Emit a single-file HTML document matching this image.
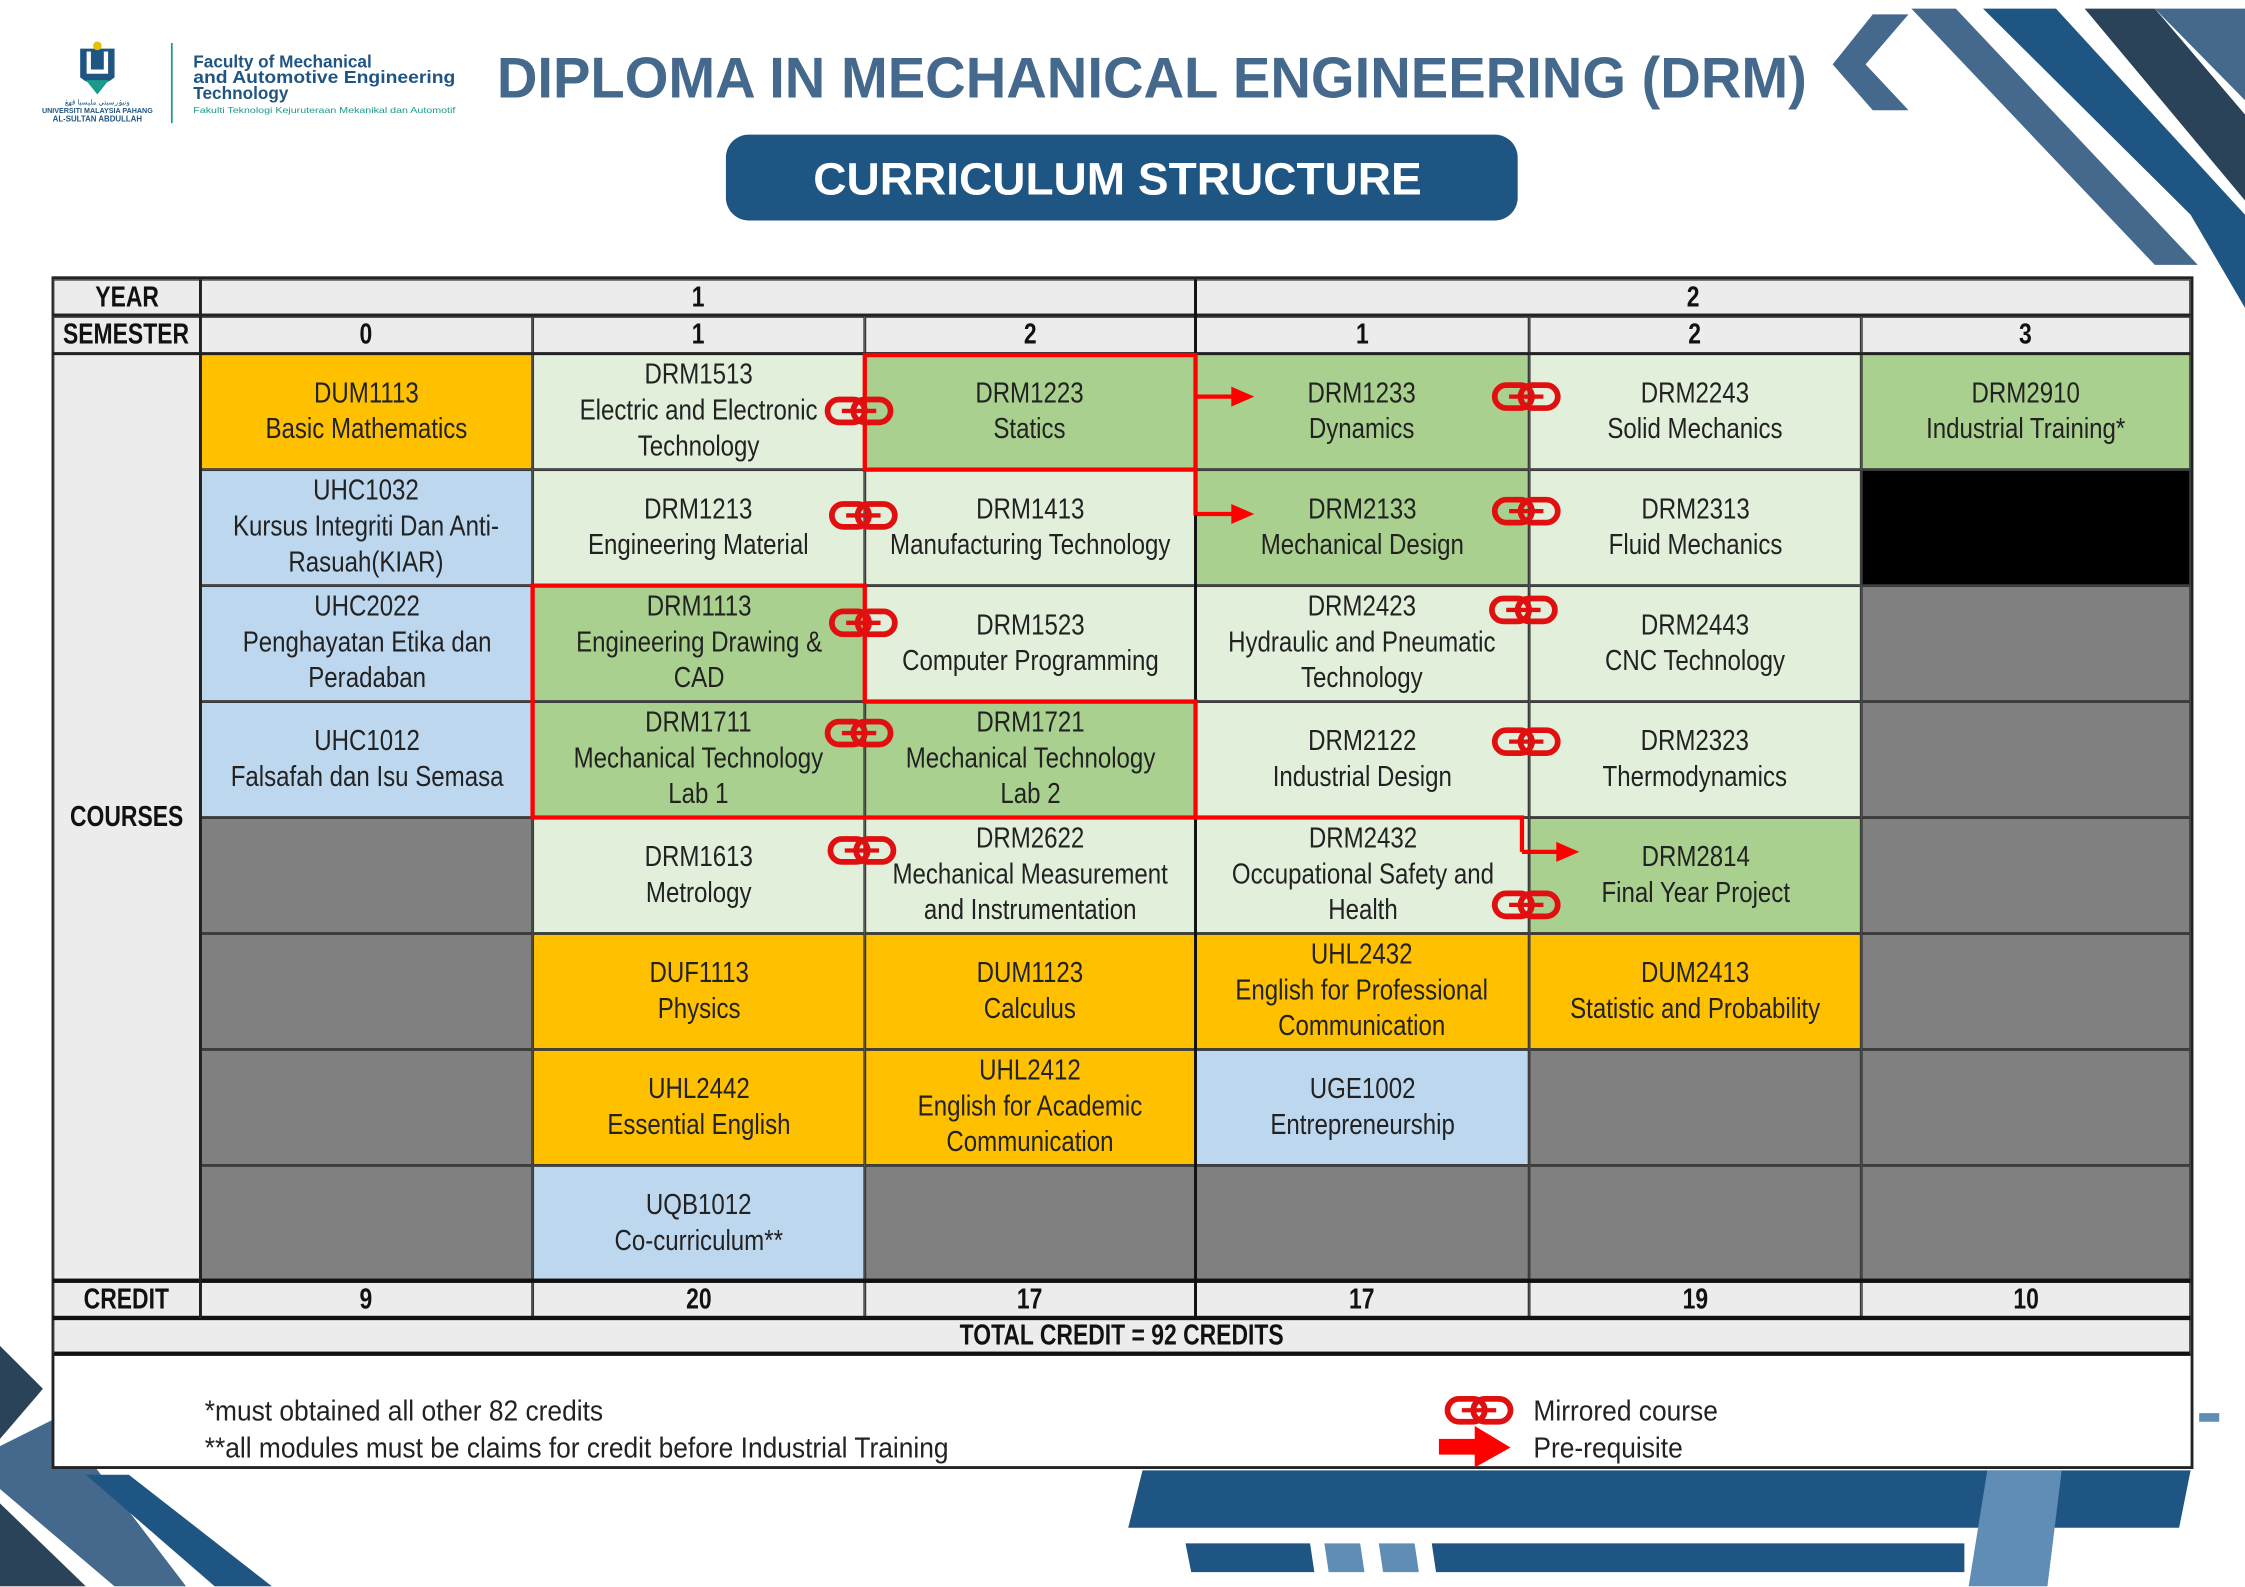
<!DOCTYPE html>
<html><head><meta charset="utf-8"><style>
html,body{margin:0;padding:0;background:#fff;}
body{width:2245px;height:1587px;overflow:hidden;position:relative;}
#w{position:absolute;left:0;top:0;width:1568px;height:1108px;transform:scale(1.43176);transform-origin:0 0;font-family:"Liberation Sans",Arial,sans-serif;}
.a{position:absolute;box-sizing:border-box;}
.c{position:absolute;box-sizing:border-box;border:1px solid #3a3a3a;display:flex;align-items:center;justify-content:center;text-align:center;overflow:visible;}
.c span{display:block;transform:scaleX(0.84);transform-origin:50% 50%;white-space:nowrap;font-size:20px;line-height:25px;color:#222;}
.h span{font-weight:bold;color:#111;transform:scaleX(0.8);font-size:20px;}
.lg{background:#e2efda}.gr{background:#a9d08e}.or{background:#ffc000}.bl{background:#bdd7ee}.gy{background:#808080}.bk{background:#000}.hd{background:#ececec}
</style></head><body><div id="w">

<svg class="a" style="left:0;top:0" width="1568" height="1108" viewBox="0 0 1568 1108">
<polygon points="1335,6 1366,6 1535,185 1505,185" fill="#44698c"/>
<polygon points="1385,6 1436,6 1568,150 1568,215 1530,150" fill="#1f5582"/>
<polygon points="1456,6 1505,6 1568,80 1568,140" fill="#2b4359"/>
<polygon points="1505,6 1568,6 1568,70" fill="#44698c"/>
<polygon points="1308,10 1333,10 1303,45 1333,77 1308,77 1280,45" fill="#44698c"/>
<polygon points="0,940 30,970 0,1005" fill="#2b4359"/>
<polygon points="0,1010 40,990 130,1108 80,1108 0,1040" fill="#44698c"/>
<polygon points="0,1050 60,1108 0,1108" fill="#2b4359"/>
<polygon points="60,1030 90,1030 190,1108 150,1108" fill="#1f5582"/>
<polygon points="798,1027 1530,1027 1522,1067 788,1067" fill="#1f5582"/>
<polygon points="828,1078 915,1078 918,1098 832,1098" fill="#1f5582"/>
<polygon points="925,1078 950,1078 953,1098 928,1098" fill="#5f8db5"/>
<polygon points="963,1078 988,1078 991,1098 966,1098" fill="#5f8db5"/>
<polygon points="1000,1078 1372,1078 1372,1098 1003,1098" fill="#1f5582"/>
<polygon points="1388,1027 1440,1027 1430,1108 1375,1108" fill="#5f8db5"/>
<rect x="1536" y="987" width="14" height="6" fill="#5f8db5"/>
<path d="M56,34 h24 v20 q-12,10 -24,0z" fill="#1f5582"/><path d="M62,36 v14 h12 v-14" fill="none" stroke="#fff" stroke-width="3"/>
<circle cx="68" cy="32" r="3" fill="#e8c000"/>
<polygon points="60,56 76,56 68,66" fill="#1a9a8a"/>
<text x="68" y="73" font-size="5" text-anchor="middle" fill="#1f5582">ونيۏرسيتي مليسيا ڤهڠ</text>
<text x="68" y="79" font-size="5" text-anchor="middle" fill="#1f5582" font-weight="bold">UNIVERSITI MALAYSIA PAHANG</text>
<text x="68" y="85" font-size="5.5" text-anchor="middle" fill="#1f5582" font-weight="bold">AL-SULTAN ABDULLAH</text>
<line x1="120" y1="30" x2="120" y2="86" stroke="#1a9a8a" stroke-width="1.2"/>
<text x="135" y="47" font-size="12" font-weight="bold" fill="#1f5582">Faculty of Mechanical</text>
<text x="135" y="58" font-size="12" font-weight="bold" fill="#1f5582" textLength="183" lengthAdjust="spacingAndGlyphs">and Automotive Engineering</text>
<text x="135" y="69" font-size="12" font-weight="bold" fill="#1f5582">Technology</text>
<text x="135" y="79" font-size="6" fill="#1a9a8a" textLength="183" lengthAdjust="spacingAndGlyphs">Fakulti Teknologi Kejuruteraan Mekanikal dan Automotif</text>
<text x="347" y="68" font-size="40" font-weight="bold" fill="#44698c" textLength="915" lengthAdjust="spacingAndGlyphs">DIPLOMA IN MECHANICAL ENGINEERING (DRM)</text>
<rect x="507" y="94" width="553" height="60" rx="16" fill="#1f5582"/>
<text x="568" y="136" font-size="32" font-weight="bold" fill="#fff" textLength="425" lengthAdjust="spacingAndGlyphs">CURRICULUM STRUCTURE</text>
</svg>

<div class="a" style="left:36px;top:193px;width:1496px;height:833px;border:2px solid #222;background:#fff"></div>
<div class="c hd h" style="left:37px;top:195px;width:103px;height:26px"><span>YEAR</span></div>
<div class="c hd h" style="left:140px;top:195px;width:695px;height:26px"><span>1</span></div>
<div class="c hd h" style="left:835px;top:195px;width:695px;height:26px"><span>2</span></div>
<div class="c hd h" style="left:37px;top:221px;width:103px;height:26px"><span>SEMESTER</span></div>
<div class="c hd h" style="left:140px;top:221px;width:232px;height:26px"><span>0</span></div>
<div class="c hd h" style="left:372px;top:221px;width:232px;height:26px"><span>1</span></div>
<div class="c hd h" style="left:604px;top:221px;width:231px;height:26px"><span>2</span></div>
<div class="c hd h" style="left:835px;top:221px;width:233px;height:26px"><span>1</span></div>
<div class="c hd h" style="left:1068px;top:221px;width:232px;height:26px"><span>2</span></div>
<div class="c hd h" style="left:1300px;top:221px;width:230px;height:26px"><span>3</span></div>
<div class="c hd h" style="left:37px;top:247px;width:103px;height:648px"><span>COURSES</span></div>

<div class="c or" style="left:140px;top:247px;width:232px;height:81px"><span>DUM1113<br>Basic Mathematics</span></div>
<div class="c lg" style="left:372px;top:247px;width:232px;height:81px"><span>DRM1513<br>Electric and Electronic<br>Technology</span></div>
<div class="c gr" style="left:604px;top:247px;width:231px;height:81px"><span>DRM1223<br>Statics</span></div>
<div class="c gr" style="left:835px;top:247px;width:233px;height:81px"><span>DRM1233<br>Dynamics</span></div>
<div class="c lg" style="left:1068px;top:247px;width:232px;height:81px"><span>DRM2243<br>Solid Mechanics</span></div>
<div class="c gr" style="left:1300px;top:247px;width:230px;height:81px"><span>DRM2910<br>Industrial Training*</span></div>
<div class="c bl" style="left:140px;top:328px;width:232px;height:81px"><span>UHC1032<br>Kursus Integriti Dan Anti-<br>Rasuah(KIAR)</span></div>
<div class="c lg" style="left:372px;top:328px;width:232px;height:81px"><span>DRM1213<br>Engineering Material</span></div>
<div class="c lg" style="left:604px;top:328px;width:231px;height:81px"><span>DRM1413<br>Manufacturing Technology</span></div>
<div class="c gr" style="left:835px;top:328px;width:233px;height:81px"><span>DRM2133<br>Mechanical Design</span></div>
<div class="c lg" style="left:1068px;top:328px;width:232px;height:81px"><span>DRM2313<br>Fluid Mechanics</span></div>
<div class="c bk" style="left:1300px;top:328px;width:230px;height:81px"></div>
<div class="c bl" style="left:140px;top:409px;width:232px;height:81px"><span>UHC2022<br>Penghayatan Etika dan<br>Peradaban</span></div>
<div class="c gr" style="left:372px;top:409px;width:232px;height:81px"><span>DRM1113<br>Engineering Drawing &amp;<br>CAD</span></div>
<div class="c lg" style="left:604px;top:409px;width:231px;height:81px"><span>DRM1523<br>Computer Programming</span></div>
<div class="c lg" style="left:835px;top:409px;width:233px;height:81px"><span>DRM2423<br>Hydraulic and Pneumatic<br>Technology</span></div>
<div class="c lg" style="left:1068px;top:409px;width:232px;height:81px"><span>DRM2443<br>CNC Technology</span></div>
<div class="c gy" style="left:1300px;top:409px;width:230px;height:81px"></div>
<div class="c bl" style="left:140px;top:490px;width:232px;height:81px"><span>UHC1012<br>Falsafah dan Isu Semasa</span></div>
<div class="c gr" style="left:372px;top:490px;width:232px;height:81px"><span>DRM1711<br>Mechanical Technology<br>Lab 1</span></div>
<div class="c gr" style="left:604px;top:490px;width:231px;height:81px"><span>DRM1721<br>Mechanical Technology<br>Lab 2</span></div>
<div class="c lg" style="left:835px;top:490px;width:233px;height:81px"><span>DRM2122<br>Industrial Design</span></div>
<div class="c lg" style="left:1068px;top:490px;width:232px;height:81px"><span>DRM2323<br>Thermodynamics</span></div>
<div class="c gy" style="left:1300px;top:490px;width:230px;height:81px"></div>
<div class="c gy" style="left:140px;top:571px;width:232px;height:81px"></div>
<div class="c lg" style="left:372px;top:571px;width:232px;height:81px"><span>DRM1613<br>Metrology</span></div>
<div class="c lg" style="left:604px;top:571px;width:231px;height:81px"><span>DRM2622<br>Mechanical Measurement<br>and Instrumentation</span></div>
<div class="c lg" style="left:835px;top:571px;width:233px;height:81px"><span>DRM2432<br>Occupational Safety and<br>Health</span></div>
<div class="c gr" style="left:1068px;top:571px;width:232px;height:81px"><span>DRM2814<br>Final Year Project</span></div>
<div class="c gy" style="left:1300px;top:571px;width:230px;height:81px"></div>
<div class="c gy" style="left:140px;top:652px;width:232px;height:81px"></div>
<div class="c or" style="left:372px;top:652px;width:232px;height:81px"><span>DUF1113<br>Physics</span></div>
<div class="c or" style="left:604px;top:652px;width:231px;height:81px"><span>DUM1123<br>Calculus</span></div>
<div class="c or" style="left:835px;top:652px;width:233px;height:81px"><span>UHL2432<br>English for Professional<br>Communication</span></div>
<div class="c or" style="left:1068px;top:652px;width:232px;height:81px"><span>DUM2413<br>Statistic and Probability</span></div>
<div class="c gy" style="left:1300px;top:652px;width:230px;height:81px"></div>
<div class="c gy" style="left:140px;top:733px;width:232px;height:81px"></div>
<div class="c or" style="left:372px;top:733px;width:232px;height:81px"><span>UHL2442<br>Essential English</span></div>
<div class="c or" style="left:604px;top:733px;width:231px;height:81px"><span>UHL2412<br>English for Academic<br>Communication</span></div>
<div class="c bl" style="left:835px;top:733px;width:233px;height:81px"><span>UGE1002<br>Entrepreneurship</span></div>
<div class="c gy" style="left:1068px;top:733px;width:232px;height:81px"></div>
<div class="c gy" style="left:1300px;top:733px;width:230px;height:81px"></div>
<div class="c gy" style="left:140px;top:814px;width:232px;height:81px"></div>
<div class="c bl" style="left:372px;top:814px;width:232px;height:81px"><span>UQB1012<br>Co-curriculum**</span></div>
<div class="c gy" style="left:604px;top:814px;width:231px;height:81px"></div>
<div class="c gy" style="left:835px;top:814px;width:233px;height:81px"></div>
<div class="c gy" style="left:1068px;top:814px;width:232px;height:81px"></div>
<div class="c gy" style="left:1300px;top:814px;width:230px;height:81px"></div>
<div class="c hd h" style="left:37px;top:895px;width:103px;height:26px"><span>CREDIT</span></div>
<div class="c hd h" style="left:140px;top:895px;width:232px;height:26px"><span>9</span></div>
<div class="c hd h" style="left:372px;top:895px;width:232px;height:26px"><span>20</span></div>
<div class="c hd h" style="left:604px;top:895px;width:231px;height:26px"><span>17</span></div>
<div class="c hd h" style="left:835px;top:895px;width:233px;height:26px"><span>17</span></div>
<div class="c hd h" style="left:1068px;top:895px;width:232px;height:26px"><span>19</span></div>
<div class="c hd h" style="left:1300px;top:895px;width:230px;height:26px"><span>10</span></div>
<div class="c hd h" style="left:37px;top:921px;width:1493px;height:26px;border-bottom:3px solid #111"><span>TOTAL CREDIT = 92 CREDITS</span></div>

<div class="a" style="left:37px;top:219px;width:1493px;height:2px;background:#222"></div>
<div class="a" style="left:37px;top:246px;width:1493px;height:2px;background:#222"></div>
<div class="a" style="left:37px;top:893px;width:1493px;height:3px;background:#111"></div>
<div class="a" style="left:37px;top:919px;width:1493px;height:3px;background:#111"></div>
<div class="a" style="left:139px;top:195px;width:2px;height:726px;background:#222"></div>
<div class="a" style="left:834px;top:195px;width:2px;height:726px;background:#111"></div>

<div class="a" style="left:143px;top:973px;font-size:20px;line-height:26px;transform:scaleX(0.92);transform-origin:0 0;white-space:nowrap;color:#222">*must obtained all other 82 credits<br>**all modules must be claims for credit before Industrial Training</div>
<div class="a" style="left:1071px;top:973px;font-size:20px;line-height:26px;transform:scaleX(0.92);transform-origin:0 0;white-space:nowrap;color:#222">Mirrored course<br>Pre-requisite</div>

<svg class="a" style="left:0;top:0" width="1568" height="1108" viewBox="0 0 1568 1108">
<defs>
<g id="chn"><rect x="-22" y="-8" width="26" height="16" rx="8" fill="none" stroke="#e01010" stroke-width="4"/><rect x="-4" y="-8" width="26" height="16" rx="8" fill="none" stroke="#e01010" stroke-width="4"/><line x1="-12" y1="0" x2="12" y2="0" stroke="#e01010" stroke-width="3"/></g>
<g id="arr"><line x1="0" y1="0" x2="26" y2="0" stroke="#f00" stroke-width="3"/><polygon points="24,-7 40,0 24,7" fill="#f00"/></g>
</defs>
<g fill="none" stroke="#f00" stroke-width="3">
<rect x="604" y="248" width="231" height="80"/>
<polyline points="835,328 835,360"/>
<polygon points="372,409 604,409 604,490 835,490 835,571 372,571"/>
<polyline points="835,571 1063,571 1063,595"/>
</g>
<use href="#arr" x="836" y="277"/>
<use href="#arr" x="836" y="359"/>
<use href="#arr" x="1063" y="595"/>
<use href="#chn" x="600" y="287"/>
<use href="#chn" x="1066" y="277"/>
<use href="#chn" x="603" y="360"/>
<use href="#chn" x="1066" y="357"/>
<use href="#chn" x="603" y="435"/>
<use href="#chn" x="1064" y="426"/>
<use href="#chn" x="600" y="512"/>
<use href="#chn" x="1066" y="518"/>
<use href="#chn" x="602" y="594"/>
<use href="#chn" x="1066" y="632"/>
<use href="#chn" x="1033" y="985"/>
<polygon points="1005,1005 1030,1005 1030,996 1055,1011 1030,1025 1030,1016 1005,1016" fill="#f00"/>
</svg>
</div></body></html>
